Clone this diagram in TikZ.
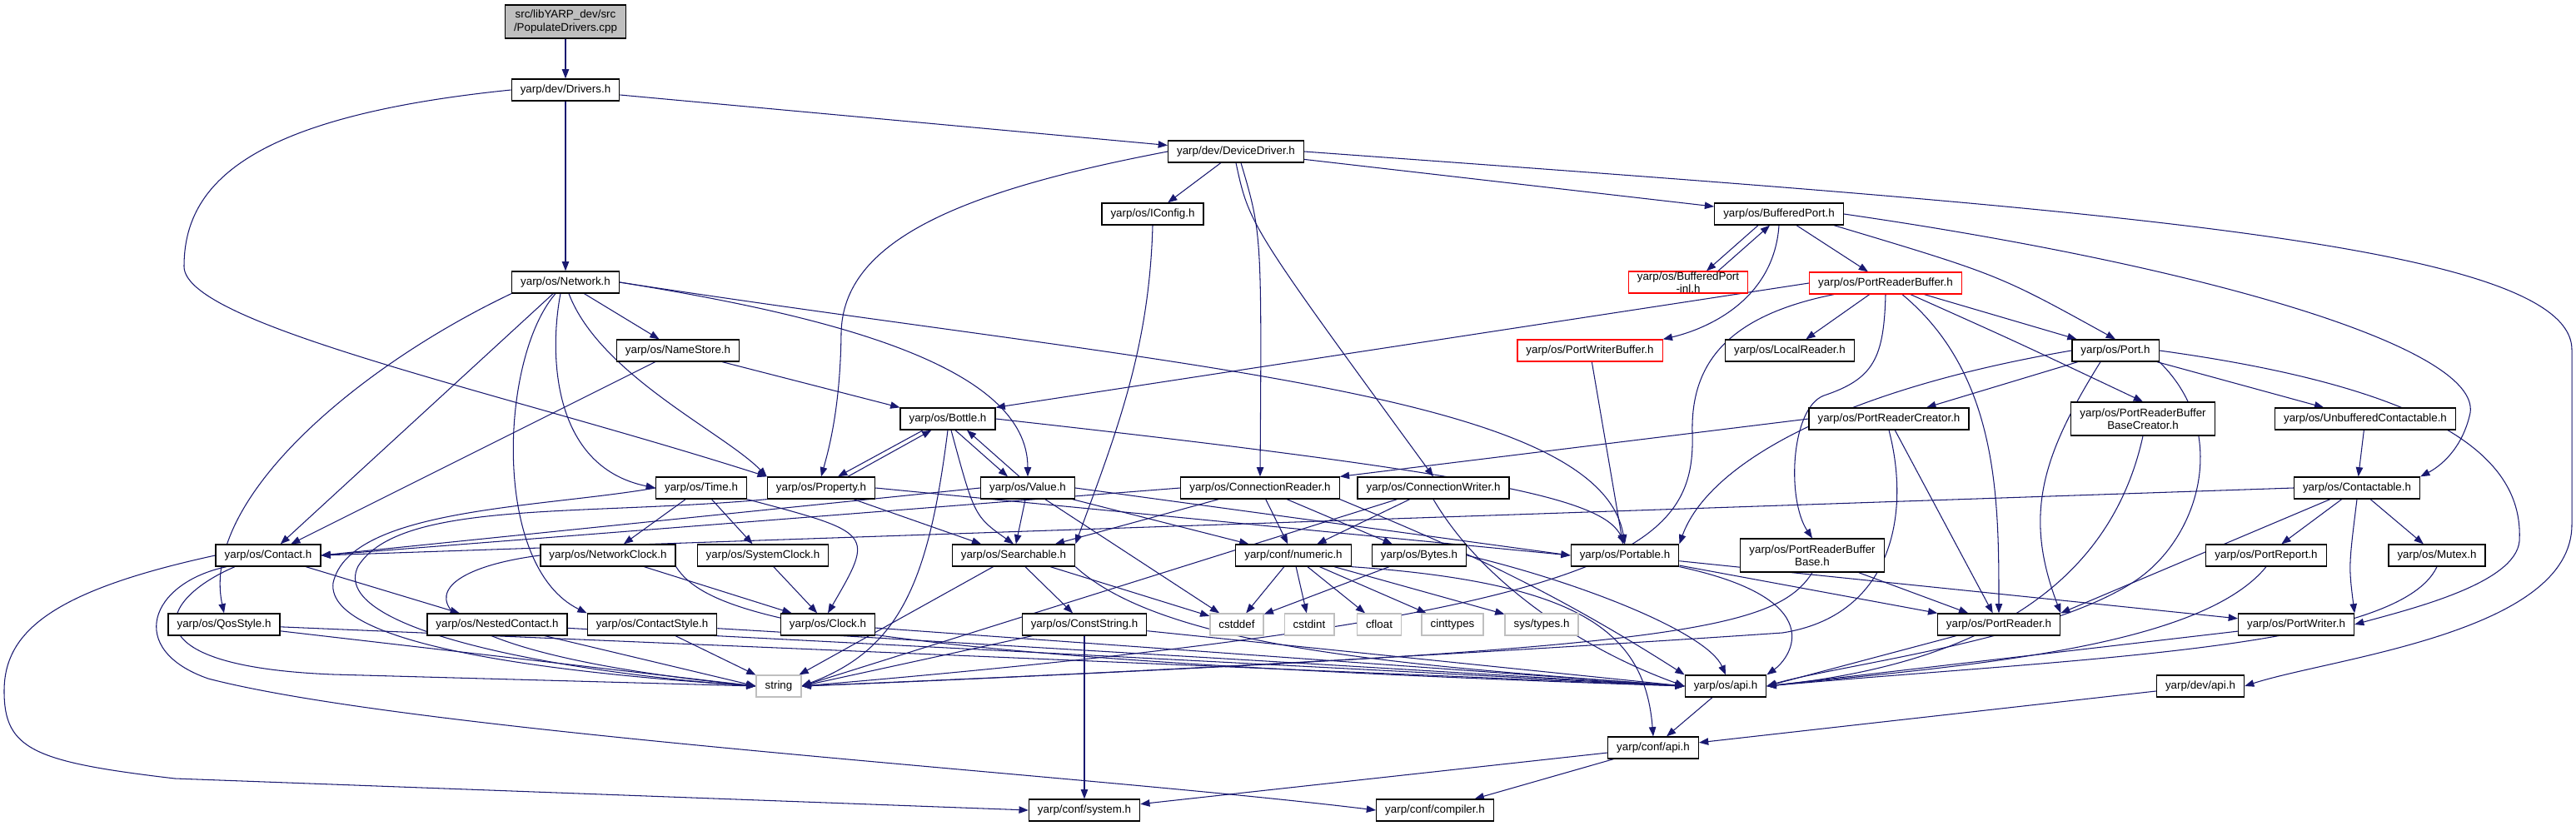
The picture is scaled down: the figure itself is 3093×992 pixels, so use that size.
\documentclass[tikz,border=0pt]{standalone}
\usepackage{fontspec}
\usepackage{tikz}
\usetikzlibrary{arrows.meta, calc, backgrounds}
\newfontfamily\doxfont{Liberation Sans}
\definecolor{monBleu}{RGB}{25, 25, 112}
\definecolor{monRouge}{RGB}{255, 0, 0}
\definecolor{monGris}{RGB}{191, 191, 191}
\tikzset{
  fichier/.style={draw=black, line width=0.9pt, fill=white, inner xsep=7.5pt, inner ysep=0pt,
    minimum height=0.65cm, align=center, font=\doxfont\fontsize{9.5}{11}\selectfont},
  racinebox/.style={fichier, fill=monGris, minimum height=1cm},
  doublebox/.style={fichier, minimum height=1cm},
  tronque/.style={fichier, draw=monRouge},
  systeme/.style={fichier, draw=monGris},
  lien/.style={draw=monBleu, line width=0.75pt, -{Triangle[length=8pt,width=6pt]}},
}

\begin{document}
\begin{tikzpicture}[x=0.025cm, y=-0.025cm]
        % Cadre
        \useasboundingbox (0,0) rectangle (3093,992);

        % Fichier de depart
        \node[racinebox] (racine) at (679,26) {src/libYARP\_dev/src\\/PopulateDrivers.cpp};

        % Premiers niveaux
        \node[fichier] (drivers) at (679,108) {yarp/dev/Drivers.h};
        \node[fichier] (devdrv) at (1484,182) {yarp/dev/DeviceDriver.h};
        \node[fichier] (iconfig) at (1384,257) {yarp/os/IConfig.h};
        \node[fichier] (bufport) at (2136,257) {yarp/os/BufferedPort.h};
        \node[fichier] (network) at (679,339) {yarp/os/Network.h};
        \node[tronque] (bufinl) at (2027,339) {yarp/os/BufferedPort\\-inl.h};
        \node[tronque] (prbuf) at (2264,340) {yarp/os/PortReaderBuffer.h};
        \node[fichier] (namestore) at (814,421) {yarp/os/NameStore.h};
        \node[tronque] (pwbuf) at (1909,421) {yarp/os/PortWriterBuffer.h};
        \node[fichier] (lreader) at (2149,421) {yarp/os/LocalReader.h};
        \node[fichier] (port) at (2540,421) {yarp/os/Port.h};

        % Niveau du milieu
        \node[fichier] (bottle) at (1138,503) {yarp/os/Bottle.h};
        \node[fichier] (prcreator) at (2268,503) {yarp/os/PortReaderCreator.h};
        \node[doublebox] (prbbc) at (2573,503) {yarp/os/PortReaderBuffer\\BaseCreator.h};
        \node[fichier] (unbuf) at (2840,503) {yarp/os/UnbufferedContactable.h};
        \node[fichier] (time) at (842,586) {yarp/os/Time.h};
        \node[fichier] (property) at (986,586) {yarp/os/Property.h};
        \node[fichier] (value) at (1234,586) {yarp/os/Value.h};
        \node[fichier] (creader) at (1513,586) {yarp/os/ConnectionReader.h};
        \node[fichier] (cwriter) at (1721,586) {yarp/os/ConnectionWriter.h};
        \node[fichier] (contactable) at (2830,586) {yarp/os/Contactable.h};
        \node[fichier] (contact) at (322,667) {yarp/os/Contact.h};
        \node[fichier] (nclock) at (730,667) {yarp/os/NetworkClock.h};
        \node[fichier] (sclock) at (916,667) {yarp/os/SystemClock.h};
        \node[fichier] (search) at (1217,667) {yarp/os/Searchable.h};
        \node[fichier] (numeric) at (1553,667) {yarp/conf/numeric.h};
        \node[fichier] (bytes) at (1704,667) {yarp/os/Bytes.h};
        \node[fichier] (portable) at (1951,667) {yarp/os/Portable.h};
        \node[doublebox] (prbb) at (2176,667) {yarp/os/PortReaderBuffer\\Base.h};
        \node[fichier] (preport) at (2721,667) {yarp/os/PortReport.h};
        \node[fichier] (mutex) at (2926,667) {yarp/os/Mutex.h};

        % Niveau du bas
        \node[fichier] (qos) at (269,750) {yarp/os/QosStyle.h};
        \node[fichier] (nested) at (597,750) {yarp/os/NestedContact.h};
        \node[fichier] (cstyle) at (783,750) {yarp/os/ContactStyle.h};
        \node[fichier] (clock) at (994,750) {yarp/os/Clock.h};
        \node[fichier] (cstring) at (1302,750) {yarp/os/ConstString.h};
        \node[systeme] (cstddef) at (1485,750) {cstddef};
        \node[systeme] (cstdint) at (1572,750) {cstdint};
        \node[systeme] (cfloat) at (1656,750) {cfloat};
        \node[systeme] (cinttypes) at (1744,750) {cinttypes};
        \node[systeme] (systypes) at (1851,750) {sys/types.h};
        \node[fichier] (preader) at (2400,750) {yarp/os/PortReader.h};
        \node[fichier] (pwriter) at (2757,750) {yarp/os/PortWriter.h};
        \node[systeme] (string) at (935,824) {string};
        \node[fichier] (osapi) at (2072,824) {yarp/os/api.h};
        \node[fichier] (devapi) at (2642,824) {yarp/dev/api.h};
        \node[fichier] (confapi) at (1985,898) {yarp/conf/api.h};
        \node[fichier] (csystem) at (1302,973) {yarp/conf/system.h};
        \node[fichier] (ccompiler) at (1723,973) {yarp/conf/compiler.h};

        \begin{scope}[on background layer]
        % Liens du haut
        \draw[lien] (racine) -- (drivers);
        \draw[lien] (drivers) -- (devdrv);
        \draw[lien] (drivers) -- (network);
        \draw[lien] (drivers.west) .. controls (300,140) and (221,220) .. (221,320) .. controls (221,390) and (600,470) .. (property.north west);
        \draw[lien] (devdrv) -- (iconfig);
        \draw[lien] (devdrv) -- (bufport);
        \draw[lien] (devdrv.west) .. controls (1150,230) and (1012,290) .. (1010,400) .. controls (1009,490) and (995,540) .. (property.north);
        \draw[lien] ($(devdrv.south)+(6,0)$) .. controls (1515,280) .. (creader.north);
        \draw[lien] (devdrv.south) .. controls (1500,270) .. (cwriter.north);
        \draw[lien] (devdrv.east) .. controls (2500,250) and (3088,290) .. (3088,420) -- (3088,630) .. controls (3088,760) and (2800,790) .. (devapi.east);
        \draw[lien] (iconfig.south) .. controls (1380,420) and (1340,520) .. (search.north east);

        % Liens de BufferedPort
        \draw[lien] ($(bufport.south)+(-25,0)$) -- ($(bufinl.north)+(22,0)$);
        \draw[lien] ($(bufinl.north)+(36,0)$) -- ($(bufport.south)+(-11,0)$);
        \draw[lien] (bufport) -- (prbuf);
        \draw[lien] ($(bufport.south)+(66,0)$) .. controls (2400,330) .. (port.north);
        \draw[lien] (bufport.east) .. controls (2650,320) and (2990,420) .. (2965,500) .. controls (2955,540) and (2930,560) .. (contactable.north east);
        \draw[lien] (bufport.south) .. controls (2130,360) and (2050,395) .. (pwbuf.north east);

        % Liens de PortReaderBuffer
        \draw[lien] (prbuf.west) -- (bottle.north east);
        \draw[lien] (prbuf) -- (lreader);
        \draw[lien] (prbuf) -- (port);
        \draw[lien] ($(prbuf.south)+(30,0)$) .. controls (2420,410) .. (prbbc.north);
        \draw[lien] ($(prbuf.south)+(20,0)$) .. controls (2400,450) and (2400,600) .. (preader.north);
        \draw[lien] (prbuf.south) .. controls (2262,430) and (2250,455) .. (2190,475) .. controls (2150,490) and (2145,600) .. (prbb.north);
        \draw[lien] ($(prbuf.south west)+(30,0)$) .. controls (2070,380) and (2030,440) .. (2032,520) .. controls (2036,660) and (1950,740) .. (string.east);
        \draw[lien] (pwbuf) -- (portable);

        % Liens de Port
        \draw[lien] (port.west) .. controls (2200,470) and (2050,560) .. (portable.north east);
        \draw[lien] (port) -- (prcreator);
        \draw[lien] ($(port.south)+(-18,0)$) .. controls (2450,550) and (2430,620) .. (preader.north east);
        \draw[lien] (port) -- (unbuf);
        \draw[lien] (port.east) .. controls (2950,470) and (3030,560) .. (3025,650) .. controls (3020,700) and (2900,730) .. (pwriter.east);
        \draw[lien] (port.south east) .. controls (2680,520) and (2640,650) .. (2560,700) .. controls (2450,770) and (2200,800) .. (osapi.east);
        \draw[lien] (prcreator.west) -- (creader.north east);
        \draw[lien] (prcreator) -- (preader);
        \draw[lien] (prcreator.south) .. controls (2295,620) and (2270,740) .. (2140,760) .. controls (1700,790) and (1200,815) .. (string.east);
        \draw[lien] (prbbc.south) .. controls (2530,720) and (2350,800) .. (osapi.east);
        \draw[lien] (unbuf) -- (contactable);

        % Liens de Contactable
        \draw[lien] (contactable.west) -- (contact.east);
        \draw[lien] (contactable) -- (preport);
        \draw[lien] (contactable) -- (mutex);
        \draw[lien] (contactable.south) .. controls (2820,680) .. (pwriter.north east);
        \draw[lien] (contactable) -- (preader.north east);
        \draw[lien] (preport.south) .. controls (2640,780) and (2350,800) .. (osapi.east);
        \draw[lien] (mutex.south) .. controls (2880,780) and (2500,790) .. (osapi.east);
        \draw[lien] (preader) -- (osapi.east);
        \draw[lien] (pwriter) -- (osapi.east);
        \draw[lien] (prbb) -- (preader);
        \draw[lien] (prbb.south) .. controls (2130,760) and (2000,780) .. (string.east);
        \draw[lien] (portable) -- (preader);
        \draw[lien] (portable) -- (pwriter);
        \draw[lien] (portable.south east) .. controls (2200,720) and (2150,790) .. (osapi.north east);

        % Liens de Network
        \draw[lien] (network.south west) .. controls (430,440) and (240,600) .. (qos.north);
        \draw[lien] (network) -- (contact);
        \draw[lien] ($(network.south)+(-12,0)$) .. controls (600,430) and (590,680) .. (cstyle.north west);
        \draw[lien] ($(network.south)+(-6,0)$) .. controls (660,420) and (660,560) .. (time.west);
        \draw[lien] ($(network.south)+(4,0)$) .. controls (720,450) and (870,520) .. (property.north west);
        \draw[lien] (network) -- (namestore);
        \draw[lien] (network.east) .. controls (1000,380) and (1234,440) .. (value.north);
        \draw[lien] (network.east) .. controls (1400,440) and (1920,470) .. (portable.north);
        \draw[lien] (namestore) -- (bottle.north west);
        \draw[lien] (namestore) -- (contact);

        % Liens de Bottle et Property
        \draw[lien] ($(bottle.south west)+(28,0)$) -- ($(property.north)+(20,0)$);
        \draw[lien] ($(property.north)+(32,0)$) -- ($(bottle.south west)+(38,0)$);
        \draw[lien] ($(bottle.south)+(9,0)$) -- ($(value.north)+(-24,0)$);
        \draw[lien] ($(value.north)+(-10,0)$) -- ($(bottle.south)+(23,0)$);
        \draw[lien] ($(bottle.south)+(4,0)$) .. controls (1170,620) .. (search.north);
        \draw[lien] (bottle.south) .. controls (1115,700) and (1080,780) .. (string.east);
        \draw[lien] (bottle.east) .. controls (1800,570) and (1925,600) .. (portable.north);
        \draw[lien] (property) -- (search);
        \draw[lien] (property.east) -- (portable.west);
        \draw[lien] (property.south west) .. controls (700,620) and (480,600) .. (430,680) .. controls (390,760) and (700,810) .. (string.west);

        % Liens de Value et des connexions
        \draw[lien] (value) -- (search);
        \draw[lien] (value) -- (cstddef);
        \draw[lien] (value) -- (numeric);
        \draw[lien] (value.east) -- (portable.west);
        \draw[lien] (value.west) -- (contact.east);
        \draw[lien] (creader.west) -- (contact.east);
        \draw[lien] (creader) -- (search);
        \draw[lien] (creader) -- (numeric);
        \draw[lien] (creader) -- (bytes);
        \draw[lien] (creader.south east) .. controls (1730,650) and (1850,700) .. (osapi.north west);
        \draw[lien] (cwriter) -- (string.east);
        \draw[lien] (cwriter) -- (numeric);
        \draw[lien] (cwriter.south) .. controls (1780,700) and (1900,780) .. (osapi.west);

        % Liens de Time et des horloges
        \draw[lien] (time) -- (nclock);
        \draw[lien] (time) -- (sclock);
        \draw[lien] (time.south east) .. controls (1050,640) .. (clock.north);
        \draw[lien] (time.west) .. controls (650,610) and (420,610) .. (400,700) .. controls (390,780) and (700,810) .. (string.west);
        \draw[lien] (nclock) -- (clock);
        \draw[lien] (nclock.west) .. controls (470,690) and (470,780) .. (string.west);
        \draw[lien] (nclock.south east) .. controls (850,740) and (1000,790) .. (osapi.west);
        \draw[lien] (sclock) -- (clock);
        \draw[lien] (clock) -- (osapi.west);

        % Liens de Contact
        \draw[lien] (contact) -- (nested);
        \draw[lien] (contact.west) .. controls (60,710) and (5,760) .. (5,830) .. controls (5,900) and (40,915) .. (210,935) -- (csystem.west);
        \draw[lien] ($(contact.south)+(-50,0)$) .. controls (180,700) and (150,780) .. (250,815) .. controls (500,880) and (1300,930) .. (ccompiler.west);
        \draw[lien] ($(contact.south)+(-40,0)$) .. controls (190,720) and (150,800) .. (400,810) -- (string.west);

        % Liens vers string et api.h
        \draw[lien] (qos) -- (string.west);
        \draw[lien] (qos) -- (osapi.west);
        \draw[lien] (nested) -- (string.west);
        \draw[lien] (nested) -- (osapi.west);
        \draw[lien] (cstyle) -- (string);
        \draw[lien] (cstyle) -- (osapi.west);
        \draw[lien] (search) -- (string);
        \draw[lien] (search) -- (cstring);
        \draw[lien] (search) -- (cstddef);
        \draw[lien] (search.south east) .. controls (1400,780) and (1700,800) .. (osapi.west);
        \draw[lien] (cstring) -- (csystem);
        \draw[lien] (cstring) -- (string.east);
        \draw[lien] (cstring) -- (osapi.west);

        % Liens de numeric et Bytes
        \draw[lien] (numeric) -- (cstddef);
        \draw[lien] (numeric) -- (cstdint);
        \draw[lien] (numeric) -- (cfloat);
        \draw[lien] (numeric) -- (cinttypes);
        \draw[lien] (numeric) -- (systypes);
        \draw[lien] (numeric.south east) .. controls (1900,700) and (1975,760) .. (confapi.north);
        \draw[lien] (bytes) -- (cstddef);
        \draw[lien] (bytes.east) .. controls (1900,700) and (2050,760) .. (osapi.north);

        % Liens des api.h
        \draw[lien] (osapi) -- (confapi);
        \draw[lien] (devapi) -- (confapi);
        \draw[lien] (confapi) -- (csystem);
        \draw[lien] (confapi) -- (ccompiler);
        \end{scope}
    \end{tikzpicture}
\end{document}
